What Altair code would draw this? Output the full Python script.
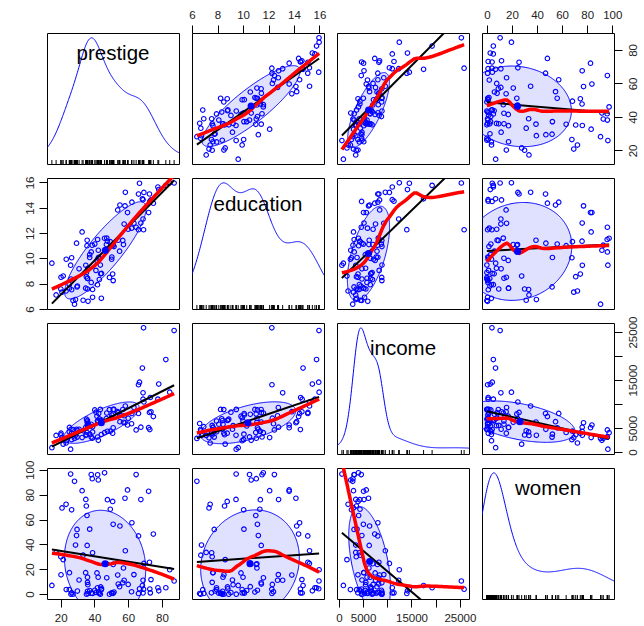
import altair as alt
import numpy as np
import pandas as pd

# Prestige data (102 occupations)
education = [13.11, 12.26, 12.77, 11.42, 14.62, 15.64, 15.09, 15.44, 14.52, 14.64, 12.39, 12.30, 13.83, 14.44, 14.36, 14.21, 15.77, 14.15, 15.22, 14.50, 15.97, 13.62, 15.08, 15.96, 15.94, 14.71, 12.46, 9.45, 13.62, 15.21, 12.79, 11.09, 12.71, 11.44, 11.59, 11.49, 11.32, 10.64, 11.36, 9.17, 12.09, 11.04, 9.22, 10.07, 10.51, 11.20, 11.13, 11.43, 11.00, 9.84, 11.13, 10.05, 9.62, 9.93, 11.60, 11.09, 11.03, 9.47, 10.93, 7.74, 8.50, 10.57, 9.46, 7.33, 7.11, 7.58, 6.84, 8.60, 8.88, 7.54, 7.64, 7.64, 7.42, 6.69, 6.74, 10.09, 8.81, 8.40, 7.92, 8.43, 8.78, 8.76, 10.29, 6.38, 8.10, 10.10, 6.67, 9.05, 9.93, 8.24, 6.92, 6.60, 7.81, 8.33, 7.52, 12.27, 8.49, 7.58, 7.93, 8.37, 10.00, 8.55]
income = [12351, 25879, 9271, 8865, 8403, 11030, 8258, 14163, 11377, 11023, 5902, 7059, 8425, 8049, 7405, 6336, 19263, 6112, 9593, 4686, 12480, 5648, 8034, 25308, 14558, 17498, 4614, 3485, 5092, 10432, 5180, 6197, 7562, 8206, 4036, 3148, 4348, 2448, 4330, 4761, 3016, 2901, 5511, 3739, 3161, 4741, 5052, 6259, 4075, 7482, 8780, 2594, 918, 2370, 8131, 6992, 7956, 8895, 8891, 3116, 3930, 7869, 611, 3000, 3472, 3582, 3643, 1656, 6860, 4199, 5134, 5134, 1890, 4443, 3485, 8043, 6686, 6565, 6477, 5811, 6573, 3942, 5449, 2847, 5795, 7716, 4696, 8316, 7147, 8880, 5299, 5959, 4549, 6928, 3910, 14032, 8845, 5562, 4224, 4753, 6462, 3617]
women = [11.16, 4.02, 15.70, 9.11, 11.68, 5.13, 25.65, 2.69, 1.03, 0.94, 1.91, 7.83, 15.33, 57.31, 48.28, 54.77, 5.13, 77.10, 34.89, 4.14, 19.59, 83.78, 46.80, 10.56, 4.32, 6.91, 96.12, 76.14, 82.66, 24.71, 76.04, 21.03, 11.15, 8.13, 97.51, 95.97, 68.24, 91.76, 75.92, 11.37, 83.19, 92.86, 7.62, 52.27, 96.14, 47.06, 56.10, 39.17, 63.23, 17.04, 3.16, 67.82, 7.00, 3.69, 13.09, 24.44, 23.88, 0.00, 1.65, 52.00, 15.51, 6.01, 96.53, 69.31, 33.57, 30.08, 3.60, 27.75, 0.00, 33.30, 17.26, 17.26, 72.24, 31.36, 39.48, 1.50, 4.28, 2.30, 5.17, 13.62, 5.78, 74.54, 2.92, 90.67, 0.81, 0.78, 0.00, 1.34, 0.99, 0.65, 0.56, 0.52, 2.46, 0.61, 1.09, 0.58, 0.00, 9.47, 3.59, 0.00, 13.58, 70.87]
prestige = [68.8, 69.1, 63.4, 56.8, 73.5, 77.6, 72.6, 78.1, 73.1, 68.8, 62.0, 60.0, 53.8, 62.2, 74.9, 55.1, 82.3, 58.1, 58.3, 72.8, 84.6, 59.6, 66.1, 87.2, 66.7, 68.4, 64.7, 34.9, 72.1, 69.3, 67.5, 57.2, 57.6, 54.1, 46.0, 41.9, 49.4, 42.3, 47.7, 30.9, 32.7, 38.7, 36.1, 37.2, 38.1, 29.4, 51.1, 35.7, 35.6, 41.5, 40.2, 26.5, 14.8, 23.3, 47.3, 47.1, 51.1, 43.5, 51.6, 29.7, 20.2, 54.9, 25.9, 20.8, 17.3, 20.1, 44.1, 21.5, 35.3, 38.9, 25.2, 34.8, 23.2, 33.3, 28.8, 42.5, 44.2, 35.9, 41.8, 35.9, 43.7, 50.8, 37.2, 28.2, 38.1, 50.3, 27.3, 40.9, 50.2, 51.1, 38.9, 36.2, 29.9, 42.9, 26.5, 66.1, 48.9, 35.9, 25.1, 26.1, 42.2, 35.2]

var_names = ["prestige", "education", "income", "women"]
tick_values = {
    "prestige": [20, 40, 60, 80],
    "education": [6, 8, 10, 12, 14, 16],
    "income": [0, 5000, 10000, 15000, 20000, 25000],
    "women": [0, 20, 40, 60, 80, 100],
}
label_baseline = {"prestige": 27, "education": 33, "income": 32, "women": 27}

df = pd.DataFrame({"prestige": prestige, "education": education,
                   "income": income, "women": women})
arr = {k: df[k].to_numpy(dtype=float) for k in var_names}
n = len(df)

W, H = 132, 131


def lims(v):
    lo, hi = v.min(), v.max()
    d = (hi - lo) * 0.04
    return [float(lo - d), float(hi + d)]


dom = {k: lims(arr[k]) for k in var_names}


def bw_nrd0(v):
    sd = v.std(ddof=1)
    q75, q25 = np.percentile(v, [75, 25])
    return 0.9 * min(sd, (q75 - q25) / 1.34) * len(v) ** (-0.2)


def gauss(u):
    return np.exp(-0.5 * u ** 2) / np.sqrt(2 * np.pi)


def adaptive_kernel(v, grid):
    """Adaptive-bandwidth kernel density (pilot nrd0, local factors (f/g)^-1/2)."""
    bw = bw_nrd0(v)
    pilot = gauss((v[:, None] - v[None, :]) / bw).sum(1) / (len(v) * bw)
    g = np.exp(np.mean(np.log(pilot)))
    lam = (pilot / g) ** -0.5
    h = bw * lam
    return (gauss((grid[:, None] - v[None, :]) / h[None, :]) / h[None, :]).sum(1) / len(v)


def loess_fit(x, y, xe, span=2 / 3, degree=1, iterations=4):
    nn = len(x)
    q = int(np.floor(nn * span))
    rw = np.ones(nn)

    def fit_at(x0, rwt):
        d = np.abs(x - x0)
        h = max(np.sort(d)[q - 1], 1e-12)
        u = d / h
        w = np.where(u < 1, (1 - u ** 3) ** 3, 0.0) * rwt
        X = np.vander(x - x0, degree + 1, increasing=True)
        sw = np.sqrt(w)
        beta = np.linalg.lstsq(X * sw[:, None], y * sw, rcond=None)[0]
        return beta[0]

    for it in range(iterations):
        if it > 0:
            fitted = np.array([fit_at(x0, rw) for x0 in x])
            res = y - fitted
            cmad = 6 * np.median(np.abs(res))
            if cmad <= 0:
                break
            rr = np.clip(np.abs(res / cmad), 0, 1)
            rw = (1 - rr ** 2) ** 2
    return np.array([fit_at(x0, rw) for x0 in xe])


def cov_trob(x, nu=5, maxit=25, tol=0.01):
    nn, p = x.shape
    wt = np.ones(nn)
    loc = x.mean(0)
    w = np.sqrt(wt)
    X = x - loc
    for _ in range(maxit):
        w0 = w
        X = x - loc
        _, d, vt = np.linalg.svd(np.sqrt(w / w.sum())[:, None] * X, full_matrices=False)
        wX = X @ vt.T @ np.diag(1 / d)
        Q = (wX ** 2).sum(1)
        w = (wt * (nu + p)) / (nu + Q)
        loc = (w[:, None] * x).sum(0) / w.sum()
        if np.all(np.abs(w - w0) < tol):
            break
    sw = np.sqrt(w)[:, None] * X
    scale = sw.T @ sw / wt.sum()
    # covariance of the multivariate t (scale * nu / (nu - 2))
    return loc, scale * nu / (nu - 2)


nu2 = n - 1
radius = np.sqrt(2 * (nu2 / 2.0) * (2 ** (2.0 / nu2) - 1))  # sqrt(2*qf(0.5,2,n-1))

LABEL_EXPR = "datum.value == 10000 || datum.value == 20000 ? '' : datum.label"
FONT = "Liberation Sans"


def make_axis(var, orient):
    kw = dict(orient=orient, values=tick_values[var], grid=False, domain=False,
              ticks=True, tickSize=8, tickColor="black", tickWidth=1,
              labelFont=FONT, labelFontSize=11.5, labelColor="#222",
              labelPadding=5, title=None, format="d", labelExpr=LABEL_EXPR,
              labelOverlap=False, labelFlush=False)
    if orient == "left":
        kw.update(labelAngle=270, labelAlign="center", labelBaseline="bottom", labelPadding=4)
    elif orient == "right":
        kw.update(labelAngle=270, labelAlign="center", labelBaseline="top", labelPadding=5)
    else:
        kw.update(labelAngle=0)
    return alt.Axis(**kw)


def x_axis(r, c):
    if r == 0 and c in (1, 3):
        return make_axis(var_names[c], "top")
    if r == 3 and c in (0, 2):
        return make_axis(var_names[c], "bottom")
    return None


def y_axis(r, c):
    if c == 0 and r in (1, 3):
        return make_axis(var_names[r], "left")
    if c == 3 and r in (0, 2):
        return make_axis(var_names[r], "right")
    return None


def xenc(field, r, c):
    return alt.X(f"{field}:Q", scale=alt.Scale(domain=dom[var_names[c]], nice=False, zero=False),
                 axis=x_axis(r, c))


def yenc(field, r, c, ydom):
    return alt.Y(f"{field}:Q", scale=alt.Scale(domain=ydom, nice=False, zero=False),
                 axis=y_axis(r, c))


panels = []
for r in range(4):
    for c in range(4):
        xv, yv = var_names[c], var_names[r]
        if r == c:
            v = arr[xv]
            bw0 = bw_nrd0(v)
            full = np.linspace(v.min() - 3 * bw0, v.max() + 3 * bw0, 500)
            fd = adaptive_kernel(v, full)
            lo_d, hi_d = fd.min(), fd.max()
            span_d = hi_d - lo_d
            ydom = [float(lo_d - 0.04 * span_d), float(hi_d + 0.04 * span_d)]
            grid = np.linspace(dom[xv][0], dom[xv][1], 300)
            gd = adaptive_kernel(v, grid)
            ddf = pd.DataFrame({"gx": grid, "gy": gd})
            dens = alt.Chart(ddf).mark_line(color="#0000FF", strokeWidth=1, clip=True).encode(
                x=xenc("gx", r, c), y=yenc("gy", r, c, ydom))
            rug = alt.Chart(df).mark_rule(color="black", strokeWidth=1).encode(
                x=xenc(xv, r, c), y=alt.value(H - 4), y2=alt.value(H))
            txt = alt.Chart(pd.DataFrame({"name": [xv]})).mark_text(
                font=FONT, fontSize=20.5, color="black", baseline="alphabetic", align="center"
            ).encode(text="name:N", x=alt.value(W / 2), y=alt.value(label_baseline[xv]))
            panels.append(alt.layer(dens, rug, txt).properties(width=W, height=H))
            continue

        ydom = dom[yv]
        xy = np.column_stack([arr[xv], arr[yv]])
        loc, cov = cov_trob(xy)
        sxx, syy, sxy = cov[0, 0], cov[1, 1], cov[0, 1]
        th = np.linspace(np.pi, 0, 181)
        ex = loc[0] + radius * np.sqrt(sxx) * np.cos(th)
        dx = ex - loc[0]
        half = np.sqrt(np.clip((radius ** 2 - dx ** 2 / sxx) * (syy - sxy ** 2 / sxx), 0, None))
        mid = loc[1] + sxy / sxx * dx
        ell = pd.DataFrame({"ex": ex, "elo": mid - half, "ehi": mid + half})
        cen = pd.DataFrame({"cx": [loc[0]], "cy": [loc[1]]})

        xe = np.linspace(arr[xv].min(), arr[xv].max(), 50)
        ye = loess_fit(arr[xv], arr[yv], xe)
        sm = pd.DataFrame({"sx": xe, "sy": ye})

        ellipse = alt.Chart(ell).mark_area(
            fill="#0000FF", fillOpacity=0.12, stroke="#0000FF", strokeWidth=1, clip=True
        ).encode(x=xenc("ex", r, c), y=yenc("elo", r, c, ydom), y2="ehi:Q")
        pts = alt.Chart(df).mark_point(
            shape="circle", filled=False, color="#0000FF", size=21, strokeWidth=1.1, opacity=1, clip=True
        ).encode(x=xenc(xv, r, c), y=yenc(yv, r, c, ydom))
        reg = alt.Chart(df).transform_regression(
            xv, yv, method="linear", extent=[float(arr[xv].min()), float(arr[xv].max())]
        ).mark_line(color="black", strokeWidth=2, clip=True).encode(
            x=xenc(xv, r, c), y=yenc(yv, r, c, ydom))
        lo = alt.Chart(sm).mark_line(color="#FF0000", strokeWidth=3.5, clip=True).encode(
            x=xenc("sx", r, c), y=yenc("sy", r, c, ydom))
        cp = alt.Chart(cen).mark_point(
            shape="circle", filled=True, color="#0000FF", size=50, opacity=1, clip=True
        ).encode(x=xenc("cx", r, c), y=yenc("cy", r, c, ydom))
        panels.append(alt.layer(ellipse, pts, reg, lo, cp).properties(width=W, height=H))

chart = alt.concat(
    *panels, columns=4, spacing={"row": 14, "column": 13}, bounds="flush"
).resolve_scale(x="independent", y="independent").properties(
    padding={"left": 23, "top": 8, "right": 4, "bottom": 0},
    background="white",
).configure_view(stroke="black", strokeWidth=1)

chart.save("out.html", embed_options={"renderer": "svg", "actions": False})
